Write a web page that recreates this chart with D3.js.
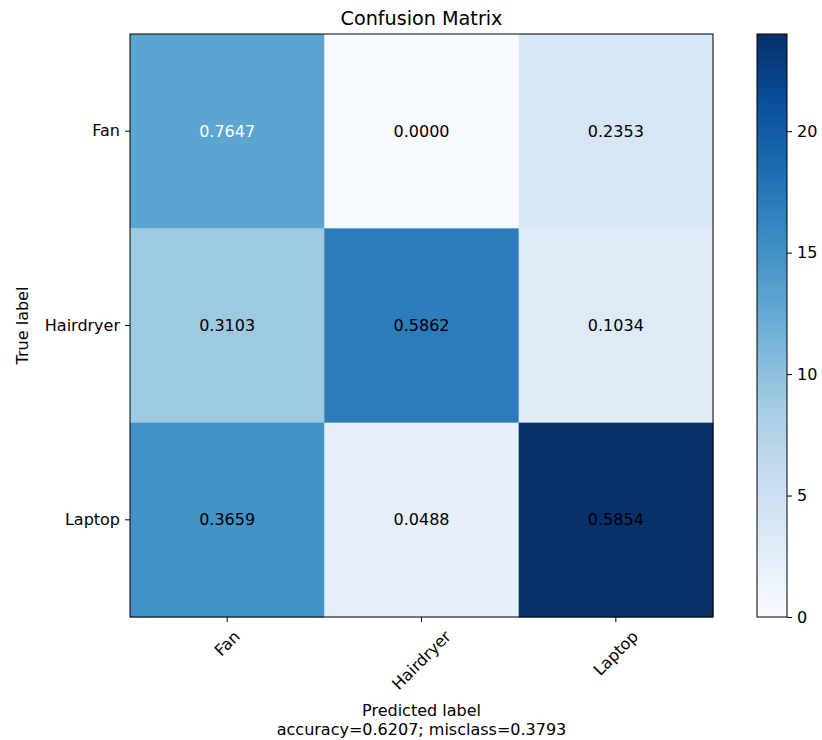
<!DOCTYPE html>
<html>
<head>
<meta charset="utf-8">
<script src="https://cdn.jsdelivr.net/npm/d3@7"></script>
<style>
  html, body { margin: 0; padding: 0; background: #fff; }
  text { font-family: "DejaVu Sans", sans-serif; }
</style>
</head>
<body>
<svg id="chart" width="822" height="740"></svg>
<script>
// ---- data ----
const classes = ["Fan", "Hairdryer", "Laptop"];
const countsFan = [13, 0, 4];
const countsHairdryer = [9, 17, 3];
const countsLaptop = [15, 2, 24];
const normFan = [0.7647, 0.0000, 0.2353];
const normHairdryer = [0.3103, 0.5862, 0.1034];
const normLaptop = [0.3659, 0.0488, 0.5854];
const colorbarTicks = [0, 5, 10, 15, 20];
const accuracy = 0.6207;
const misclass = 0.3793;
const title = "Confusion Matrix";
const textThreshold = 0.6;

const counts = [countsFan, countsHairdryer, countsLaptop];
const norms = [normFan, normHairdryer, normLaptop];

// ---- layout ----
const svg = d3.select("#chart");
const plot = {x0: 130, y0: 34, size: 583};
const cb = {x0: 757, x1: 787};
const fs = 16;

const blues = ["#f7fbff","#deebf7","#c6dbef","#9ecae1","#6baed6","#4292c6","#2171b5","#08519c","#08306b"];
const vmax = d3.max(counts.flat());
const color = d3.scaleLinear()
  .domain(blues.map((_, i) => i / (blues.length - 1) * vmax))
  .range(blues)
  .interpolate(d3.interpolateRgb)
  .clamp(true);

const x = d3.scaleBand().domain(classes).range([plot.x0, plot.x0 + plot.size]);
const y = d3.scaleBand().domain(classes).range([plot.y0, plot.y0 + plot.size]);

const cells = [];
classes.forEach((r, i) => classes.forEach((c, j) => cells.push({r, c, v: counts[i][j], n: norms[i][j]})));

svg.append("g").selectAll("rect").data(cells).join("rect")
  .attr("x", d => x(d.c)).attr("y", d => y(d.r))
  .attr("width", x.bandwidth() + 0.5).attr("height", y.bandwidth() + 0.5)
  .attr("fill", d => color(d.v));

svg.append("g").selectAll("text").data(cells).join("text")
  .attr("x", d => x(d.c) + x.bandwidth() / 2)
  .attr("y", d => y(d.r) + y.bandwidth() / 2)
  .attr("text-anchor", "middle").attr("dominant-baseline", "central")
  .attr("font-size", fs)
  .attr("fill", d => d.n > textThreshold ? "#fff" : "#000")
  .text(d => d.n.toFixed(4));

svg.append("rect").attr("x", plot.x0).attr("y", plot.y0)
  .attr("width", plot.size).attr("height", plot.size)
  .attr("fill", "none").attr("stroke", "#000").attr("stroke-width", 1);

// axes
const yAxis = d3.axisLeft(y).tickSize(5).tickPadding(5);
const gy = svg.append("g").attr("transform", `translate(${plot.x0},0)`).call(yAxis);
gy.select(".domain").remove();
gy.selectAll("text").attr("font-size", fs).attr("font-family", "DejaVu Sans").attr("fill", "#000");

const xAxis = d3.axisBottom(x).tickSize(5).tickPadding(5);
const gx = svg.append("g").attr("transform", `translate(0,${plot.y0 + plot.size})`).call(xAxis);
gx.select(".domain").remove();
gx.selectAll("text").attr("font-size", fs).attr("font-family", "DejaVu Sans").attr("fill", "#000")
  .each(function() {
    const t = d3.select(this);
    const w = this.getComputedTextLength();
    const h = fs * 1.17;
    const bh = (w + h) * Math.SQRT1_2;
    t.attr("y", null).attr("dy", null)
      .attr("text-anchor", "middle").attr("dominant-baseline", "central")
      .attr("transform", `translate(0,${10 + bh / 2}) rotate(-45)`);
  });

// titles
svg.append("text").attr("x", plot.x0 + plot.size / 2).attr("y", 25)
  .attr("text-anchor", "middle").attr("font-size", 19.2).text(title);
svg.append("text").attr("transform", `translate(28,${plot.y0 + plot.size / 2}) rotate(-90)`)
  .attr("text-anchor", "middle").attr("font-size", fs).text("True label");
svg.append("text").attr("x", plot.x0 + plot.size / 2).attr("y", 716)
  .attr("text-anchor", "middle").attr("font-size", fs).text("Predicted label");
svg.append("text").attr("x", plot.x0 + plot.size / 2).attr("y", 735)
  .attr("text-anchor", "middle").attr("font-size", fs)
  .text(`accuracy=${accuracy.toFixed(4)}; misclass=${misclass.toFixed(4)}`);

// colorbar
const defs = svg.append("defs");
const grad = defs.append("linearGradient").attr("id", "cbg")
  .attr("x1", 0).attr("y1", 1).attr("x2", 0).attr("y2", 0);
grad.selectAll("stop").data(d3.range(0, 1.0001, 0.02)).join("stop")
  .attr("offset", d => d).attr("stop-color", d => color(d * vmax));
svg.append("rect").attr("x", cb.x0).attr("y", plot.y0)
  .attr("width", cb.x1 - cb.x0).attr("height", plot.size)
  .attr("fill", "url(#cbg)").attr("stroke", "#000").attr("stroke-width", 1);
const cy = d3.scaleLinear().domain([0, vmax]).range([plot.y0 + plot.size, plot.y0]);
const gc = svg.append("g").attr("transform", `translate(${cb.x1},0)`)
  .call(d3.axisRight(cy).tickValues(colorbarTicks).tickSize(5).tickPadding(5));
gc.select(".domain").remove();
gc.selectAll("text").attr("font-size", fs).attr("font-family", "DejaVu Sans").attr("fill", "#000");
</script>
</body>
</html>
